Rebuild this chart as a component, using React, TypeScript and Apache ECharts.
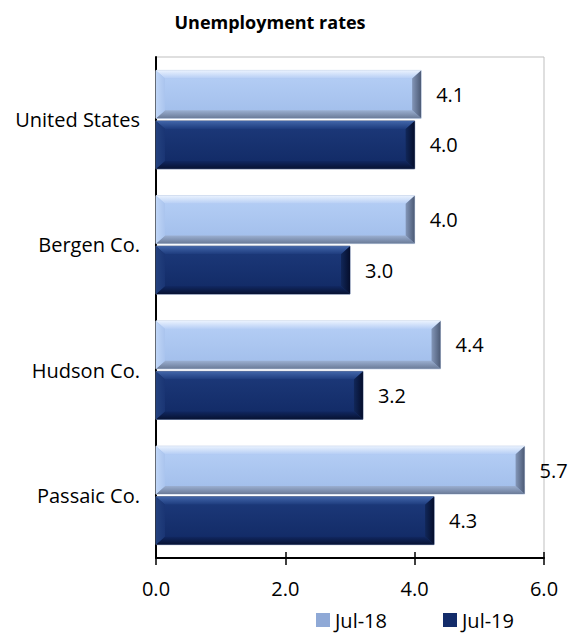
import React, { useEffect, useRef } from "react";
import * as echarts from "echarts";

const categories = ["United States", "Bergen Co.", "Hudson Co.", "Passaic Co."];
const seriesNames = ["Jul-18", "Jul-19"];
const jul18 = [4.1, 4.0, 4.4, 5.7];
const jul19 = [4.0, 3.0, 3.2, 4.3];
const xMin = 0;
const xMax = 6;
const xInterval = 2;

const FONT = "'Open Sans', 'Noto Sans', sans-serif";

const lightPal = {
  base: "#A8C3EE",
  face: ["#B2CCF4", "#A4C0EC"],
  top: ["#EAF2FE", "#B6CEF5"],
  bottom: ["#9AAED0", "#6A7A97"],
  left: ["#C0D6F7", "#AAC4EE"],
  right: ["#8396B8", "#4C5A75"],
  stroke: "#C9D6EA",
};
const darkPal = {
  base: "#15306D",
  face: ["#1B3777", "#132C68"],
  top: ["#4266A9", "#1E3C7E"],
  bottom: ["#112862", "#071232"],
  left: ["#24427F", "#1A3574"],
  right: ["#112759", "#050E2C"],
  stroke: "#5D6F95",
};

function lg(x1: number, y1: number, x2: number, y2: number, c: string[]) {
  return new echarts.graphic.LinearGradient(x1, y1, x2, y2, [
    { offset: 0, color: c[0] },
    { offset: 1, color: c[1] },
  ]);
}

function makeRender(slot: number, pal: any) {
  return (params: any, api: any) => {
    const v = api.value(0);
    const c = api.value(1);
    const end = api.coord([v, c]);
    const start = api.coord([0, c]);
    const band = api.size([0, 1])[1];
    const h = band * 0.383;
    const gap = band * 0.02;
    const y0 = slot === 0 ? end[1] - gap / 2 - h : end[1] + gap / 2;
    const y1 = y0 + h;
    const x0 = start[0];
    const x1 = end[0];
    const bx = Math.min(9, (x1 - x0) / 2);
    const by = 8;
    return {
      type: "group",
      children: [
        {
          type: "rect",
          shape: { x: x0, y: y0, width: x1 - x0, height: h },
          style: { fill: pal.base, stroke: pal.stroke, lineWidth: 1 },
        },
        {
          type: "rect",
          shape: { x: x0 + bx, y: y0 + by, width: x1 - x0 - 2 * bx, height: h - 2 * by },
          style: { fill: lg(0, 0, 0, 1, pal.face) },
        },
        {
          type: "polygon",
          shape: { points: [[x0, y0], [x1, y0], [x1 - bx, y0 + by], [x0 + bx, y0 + by]] },
          style: { fill: lg(0, 0, 0, 1, pal.top) },
        },
        {
          type: "polygon",
          shape: { points: [[x0 + bx, y1 - by], [x1 - bx, y1 - by], [x1, y1], [x0, y1]] },
          style: { fill: lg(0, 0, 0, 1, pal.bottom) },
        },
        {
          type: "polygon",
          shape: { points: [[x0, y0], [x0 + bx, y0 + by], [x0 + bx, y1 - by], [x0, y1]] },
          style: { fill: lg(0, 0, 1, 0, pal.left) },
        },
        {
          type: "polygon",
          shape: { points: [[x1 - bx, y0 + by], [x1, y0], [x1, y1], [x1 - bx, y1 - by]] },
          style: { fill: lg(0, 0, 1, 0, pal.right) },
        },
        {
          type: "text",
          style: {
            text: v.toFixed(1),
            x: x1 + 15,
            y: (y0 + y1) / 2,
            align: "left",
            verticalAlign: "middle",
            fontSize: 20,
            fontFamily: FONT,
            fill: "#000",
          },
        },
      ],
    };
  };
}

export default function App() {
  const ref = useRef<HTMLDivElement>(null);
  useEffect(() => {
    document.body.style.margin = "0";
    const chart = echarts.init(ref.current!, undefined, { renderer: "svg" });
    const option: any = {
      animation: false,
      backgroundColor: "#fff",
      graphic: [
        {
          type: "text",
          x: 270,
          y: 22,
          style: {
            text: "Unemployment rates",
            align: "center",
            verticalAlign: "middle",
            fontSize: 18,
            fontWeight: "bold",
            fontFamily: FONT,
            fill: "#000",
          },
        },
      ],
      legend: {
        data: seriesNames,
        left: 316,
        top: 610,
        padding: 0,
        icon: "rect",
        itemWidth: 14,
        itemHeight: 14,
        itemGap: 56,
        textStyle: { fontSize: 20, fontFamily: FONT, color: "#000", lineHeight: 20 },
      },
      grid: {
        left: 156,
        right: 26,
        top: 57,
        bottom: 76,
        show: true,
        borderColor: "#BFBFBF",
        borderWidth: 1,
        backgroundColor: "transparent",
      },
      xAxis: [
        {
          type: "value",
          min: xMin,
          max: xMax,
          interval: xInterval,
          position: "bottom",
          axisLine: { show: true, lineStyle: { color: "#000", width: 2 } },
          axisTick: { show: true, length: 7, lineStyle: { color: "#000", width: 1.5 } },
          axisLabel: {
            formatter: (v: number) => v.toFixed(1),
            margin: 20,
            fontSize: 20,
            fontFamily: FONT,
            color: "#000",
          },
          splitLine: { show: false },
        },
        {
          type: "value",
          min: xMin,
          max: xMax,
          interval: xInterval,
          position: "bottom",
          axisLine: { show: false },
          axisTick: { show: true, inside: true, length: 6, lineStyle: { color: "#000", width: 1.5 } },
          axisLabel: { show: false },
          splitLine: { show: false },
        },
      ],
      yAxis: {
        type: "category",
        data: categories,
        inverse: true,
        axisLine: { show: true, lineStyle: { color: "#000", width: 2 } },
        axisTick: { show: false },
        axisLabel: { margin: 16, fontSize: 20, fontFamily: FONT, color: "#000" },
        splitLine: { show: false },
      },
      series: [
        {
          name: seriesNames[0],
          type: "custom",
          xAxisIndex: 0,
          itemStyle: { color: "#8FA9D6" },
          renderItem: makeRender(0, lightPal),
          encode: { x: 0, y: 1 },
          data: jul18.map((v, i) => [v, i]),
          clip: false,
          z: 3,
        },
        {
          name: seriesNames[1],
          type: "custom",
          xAxisIndex: 0,
          itemStyle: { color: "#142D6B" },
          renderItem: makeRender(1, darkPal),
          encode: { x: 0, y: 1 },
          data: jul19.map((v, i) => [v, i]),
          clip: false,
          z: 3,
        },
      ],
    };
    chart.setOption(option);
    return () => chart.dispose();
  }, []);
  return <div ref={ref} style={{ width: 570, height: 634 }} />;
}
